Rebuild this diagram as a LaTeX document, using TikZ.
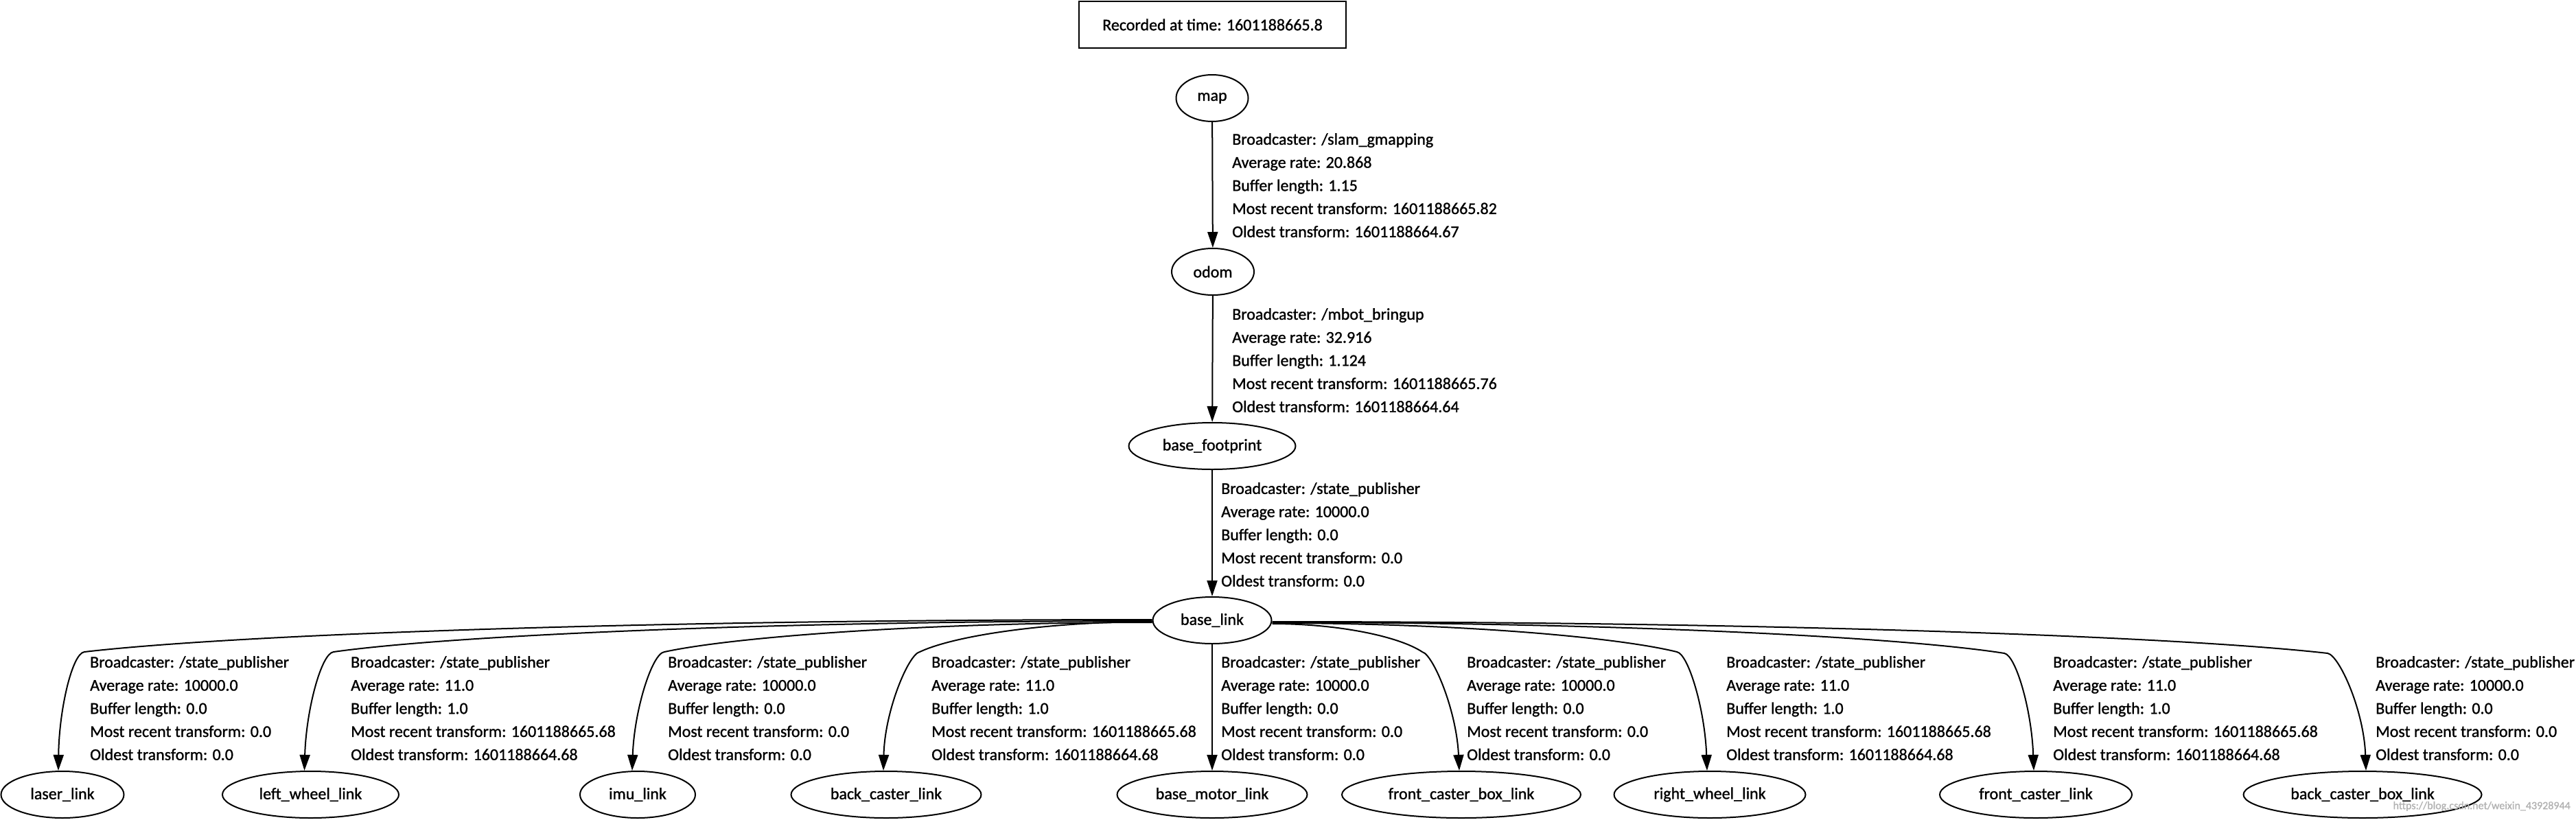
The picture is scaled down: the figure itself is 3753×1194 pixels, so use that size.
\documentclass[tikz,border=0pt]{standalone}
\usepackage{fontspec}
\setmainfont[FakeBold=1.2]{Carlito}
\usetikzlibrary{arrows.meta,shapes.geometric}
\begin{document}
\begin{tikzpicture}[x=1pt,y=-1pt,
  every node/.style={font=\fontsize{24}{33.7}\selectfont, inner sep=0pt},
  tfnode/.style={draw, ellipse, line width=2pt, minimum height=68pt},
  tfbox/.style={draw, rectangle, line width=2pt, minimum width=389pt, minimum height=68pt},
  tflabel/.style={anchor=west, align=left},
  tfedge/.style={line width=2pt, -{Triangle[length=23pt,width=15pt]}},
  wmark/.style={font=\fontsize{16}{18}\selectfont, text=black!30},
]
\useasboundingbox (0,0) rectangle (3753,1194);

% header
\node[tfbox] (rec) at (1766.5,36) {Recorded at time: 1601188665.8};

% frames
\node[tfnode, minimum width=105pt] (map) at (1766,143) {map};
\node[tfnode, minimum width=120pt] (odom) at (1767,396) {odom};
\node[tfnode, minimum width=243pt] (base_footprint) at (1766,650) {base\_footprint};
\node[tfnode, minimum width=173pt] (base_link) at (1766,904) {base\_link};

\node[tfnode, minimum width=179pt] (laser_link) at (91,1158) {laser\_link};
\node[tfnode, minimum width=257pt] (left_wheel_link) at (452.5,1158) {left\_wheel\_link};
\node[tfnode, minimum width=168pt] (imu_link) at (929,1158) {imu\_link};
\node[tfnode, minimum width=277pt] (back_caster_link) at (1291,1158) {back\_caster\_link};
\node[tfnode, minimum width=277pt] (base_motor_link) at (1766,1158) {base\_motor\_link};
\node[tfnode, minimum width=348pt] (front_caster_box_link) at (2129,1158) {front\_caster\_box\_link};
\node[tfnode, minimum width=279pt] (right_wheel_link) at (2491,1158) {right\_wheel\_link};
\node[tfnode, minimum width=280pt] (front_caster_link) at (2966,1158) {front\_caster\_link};
\node[tfnode, minimum width=347pt] (back_caster_box_link) at (3442,1158) {back\_caster\_box\_link};

% edge labels
\node[tflabel] (lab_map) at (1795,270) {Broadcaster: /slam\_gmapping\\Average rate: 20.868\\Buffer length: 1.15\\Most recent transform: 1601188665.82\\Oldest transform: 1601188664.67};
\node[tflabel] (lab_odom) at (1795,525) {Broadcaster: /mbot\_bringup\\Average rate: 32.916\\Buffer length: 1.124\\Most recent transform: 1601188665.76\\Oldest transform: 1601188664.64};
\node[tflabel] (lab_fp) at (1779,779) {Broadcaster: /state\_publisher\\Average rate: 10000.0\\Buffer length: 0.0\\Most recent transform: 0.0\\Oldest transform: 0.0};

\node[tflabel] (lab_laser) at (131,1032) {Broadcaster: /state\_publisher\\Average rate: 10000.0\\Buffer length: 0.0\\Most recent transform: 0.0\\Oldest transform: 0.0};
\node[tflabel] (lab_lw) at (511,1032) {Broadcaster: /state\_publisher\\Average rate: 11.0\\Buffer length: 1.0\\Most recent transform: 1601188665.68\\Oldest transform: 1601188664.68};
\node[tflabel] (lab_imu) at (973,1032) {Broadcaster: /state\_publisher\\Average rate: 10000.0\\Buffer length: 0.0\\Most recent transform: 0.0\\Oldest transform: 0.0};
\node[tflabel] (lab_bc) at (1357,1032) {Broadcaster: /state\_publisher\\Average rate: 11.0\\Buffer length: 1.0\\Most recent transform: 1601188665.68\\Oldest transform: 1601188664.68};
\node[tflabel] (lab_bm) at (1779,1032) {Broadcaster: /state\_publisher\\Average rate: 10000.0\\Buffer length: 0.0\\Most recent transform: 0.0\\Oldest transform: 0.0};
\node[tflabel] (lab_fcb) at (2137,1032) {Broadcaster: /state\_publisher\\Average rate: 10000.0\\Buffer length: 0.0\\Most recent transform: 0.0\\Oldest transform: 0.0};
\node[tflabel] (lab_rw) at (2515,1032) {Broadcaster: /state\_publisher\\Average rate: 11.0\\Buffer length: 1.0\\Most recent transform: 1601188665.68\\Oldest transform: 1601188664.68};
\node[tflabel] (lab_fc) at (2991,1032) {Broadcaster: /state\_publisher\\Average rate: 11.0\\Buffer length: 1.0\\Most recent transform: 1601188665.68\\Oldest transform: 1601188664.68};
\node[tflabel] (lab_bcb) at (3461,1032) {Broadcaster: /state\_publisher\\Average rate: 10000.0\\Buffer length: 0.0\\Most recent transform: 0.0\\Oldest transform: 0.0};

% watermark
\node[wmark, anchor=east] (wm) at (3745,1175) {https://blog.csdn.net/weixin\_43928944};

% vertical edges
\draw[tfedge] (map) -- (odom);
\draw[tfedge] (odom) -- (base_footprint);
\draw[tfedge] (base_footprint) -- (base_link);
\draw[tfedge] (base_link) -- (base_motor_link);

% left fan
\draw[tfedge] ([yshift=1pt]base_link.west) .. controls (979,903) and (357,923) .. (123,950)
  .. controls (105,952) and (86,1035) .. ([xshift=-6pt]laser_link.north);
\draw[tfedge] ([yshift=-1pt]base_link.west) .. controls (1143,905) and (665,925) .. (486,950)
  .. controls (468,952) and (446,1035) .. ([xshift=-9pt]left_wheel_link.north);
\draw[tfedge] ([yshift=-3pt]base_link.west) .. controls (1360,907) and (1075,927) .. (968,950)
  .. controls (950,952) and (924,1035) .. ([xshift=-8pt]imu_link.north);
\draw[tfedge] ([yshift=-2pt]base_link.west) .. controls (1527,906) and (1391,926) .. (1340,950)
  .. controls (1324,953) and (1289,1035) .. ([xshift=-4pt]back_caster_link.north);

% right fan
\draw[tfedge] ([yshift=-5pt]base_link.east) .. controls (1952,909) and (2039,928) .. (2072,950)
  .. controls (2088,954) and (2122,1035) .. ([xshift=-3pt]front_caster_box_link.north);
\draw[tfedge] ([yshift=-4pt]base_link.east) .. controls (2119,908) and (2354,928) .. (2443,950)
  .. controls (2460,953) and (2484,1035) .. ([xshift=-4pt]right_wheel_link.north);
\draw[tfedge] ([yshift=-3pt]base_link.east) .. controls (2333,907) and (2760,927) .. (2920,952)
  .. controls (2937,955) and (2960,1035) .. ([xshift=-3pt]front_caster_link.north);
\draw[tfedge] ([yshift=-2pt]base_link.east) .. controls (2545,906) and (3160,926) .. (3391,952)
  .. controls (3408,955) and (3444,1035) .. ([xshift=5pt]back_caster_box_link.north);
\end{tikzpicture}
\end{document}
